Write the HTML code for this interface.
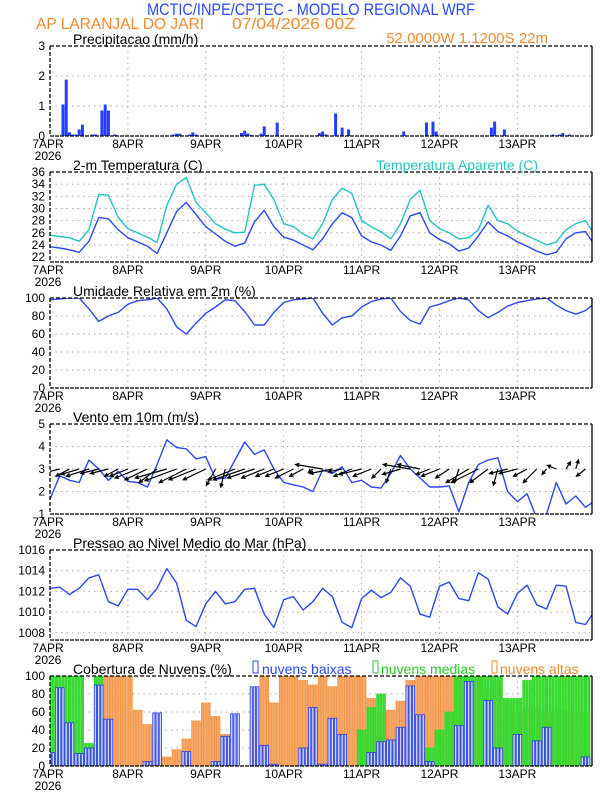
<!DOCTYPE html>
<html><head><meta charset="utf-8"><style>
body{margin:0;background:#fff}
svg{display:block;font-family:"Liberation Sans",sans-serif}
</style></head><body>
<svg id="chart" width="612" height="792" viewBox="0 0 612 792" xmlns="http://www.w3.org/2000/svg">
<text x="311" y="15" text-anchor="middle" font-size="17" fill="#2a48ff" textLength="328" lengthAdjust="spacingAndGlyphs">MCTIC/INPE/CPTEC - MODELO REGIONAL WRF</text>
<text x="36" y="29" font-size="16" fill="#f08a30" textLength="168" lengthAdjust="spacingAndGlyphs">AP LARANJAL DO JARI</text>
<text x="232" y="29" font-size="16" fill="#f08a30" textLength="123" lengthAdjust="spacingAndGlyphs">07/04/2026 00Z</text>
<text x="548" y="43" text-anchor="end" font-size="15" fill="#f08a30">52.0000W 1.1200S 22m</text>
<g id="plots"></g>
</svg>
<script>
// ---- data (3-hourly unless noted) ----
const dayLabels = ["7APR","8APR","9APR","10APR","11APR","12APR","13APR"];
const precipHours = [4,5,6,7,8,9,10,13,14,16,17,18,20,38,39,40,43,44,45,59,60,61,62,65,66,67,70,83,84,85,88,90,92,109,116,118,119,136,137,140,155,157,158,160];
const precipVals  = [1.05,1.88,0.12,0.05,0.05,0.22,0.38,0.05,0.05,0.85,1.05,0.85,0.05,0.05,0.08,0.08,0.05,0.12,0.05,0.1,0.18,0.08,0.03,0.08,0.32,0.03,0.45,0.1,0.15,0.05,0.75,0.28,0.22,0.15,0.45,0.48,0.15,0.28,0.48,0.22,0.05,0.05,0.1,0.05];
const tempApp = [25.6,25.4,25.2,24.6,26.5,32.3,32.2,28.5, 26.7,26.0,25.3,24.4,30.5,34.0,35.1,31.0, 29.3,27.5,26.6,26.0,26.1,33.8,34.0,31.5, 27.5,27.0,25.8,25.0,27.5,31.5,33.3,32.5, 28.0,27.0,26.2,25.0,27.5,31.5,33.0,28.0, 26.7,26.0,25.0,25.2,26.5,30.5,28.0,27.5, 26.3,25.5,24.8,24.0,24.5,26.5,27.5,28.0,25.5];
const temp2m = [23.7,23.5,23.2,22.8,24.6,28.5,28.3,26.5, 25.2,24.5,23.8,22.6,26.0,29.5,31.0,29.0, 27.0,25.8,24.6,23.8,24.3,27.8,29.7,27.0, 25.3,24.8,24.0,23.2,25.0,27.5,29.3,28.5, 25.5,24.5,24.0,23.1,25.5,28.8,29.3,26.0, 24.9,24.2,23.0,23.5,25.5,27.8,26.2,25.5, 24.5,23.8,23.0,22.4,22.8,25.0,26.0,26.2,23.8];
const humidity = [98,99,100,100,88,74,80,84, 93,97,98,100,88,68,60,72, 83,90,98,97,85,70,70,84, 95,98,99,100,83,70,78,80, 90,96,99,100,85,75,71,90, 93,97,100,98,86,78,84,91, 95,97,99,100,92,86,82,86,95];
const windSpeed = [1.65,2.7,2.5,2.4,3.4,3.0,2.5,2.9, 2.45,2.4,2.2,3.2,4.3,3.95,3.9,3.45, 3.55,2.55,2.6,3.4,4.2,3.65,3.85,3.0, 2.4,2.3,2.2,2.0,2.95,2.8,3.1,2.4, 2.5,2.2,2.15,2.8,3.6,3.0,2.6,2.2, 2.2,2.25,1.1,2.4,3.2,3.4,3.5,2.0, 1.55,1.9,0.8,1.0,2.4,1.45,1.8,1.3,1.6];
const windU = [-1.5,-2,-1.5,-2,-2.5,-2,-2,-1.5, -2,-2.5,-2.5,-2,-3.5,-3.5,-3,-3, -2.5,-1,-0.5,-3,-3.5,-3,-2.5,-2, -2,-2,-1.5,-0.5,-3,-2.5,-1.5,-2, -2.5,-2,-1,-0.5,-2,-3,-2.5,-1.5, -2,-1.5,-0.5,-2.5,-3,-2,-0.5,-2, -2,-1.5,-1.5,-0.5,-1,0.5,0.3,-1];
const windV = [-0.3,-0.5,-0.8,-0.6,-0.8,-0.5,-0.5,-0.8, -0.8,-1,-1.2,-1.5,-1,-1.3,-1.5,-1.2, -1.2,-1.8,-2,-1.2,-1.2,-1,-1,-0.8, -0.8,-1,-0.8,-0.4,0.5,-0.5,-0.3,-0.8, -0.6,-0.8,-1,-1.5,-0.6,0.5,0.5,-0.6, -0.8,-1,-1.5,-1.5,-1.5,-1.5,-1.8,-0.5, -0.5,-0.8,-1.5,-0.6,0.4,0.8,1.0,-0.8];
const pressure = [1012.3,1012.4,1011.7,1012.3,1013.3,1013.6,1011.0,1010.6, 1012.2,1012.2,1011.2,1012.3,1014.2,1012.8,1009.2,1008.6, 1010.8,1012.0,1010.8,1011.0,1012.2,1012.3,1009.8,1008.5, 1011.2,1011.5,1010.2,1011.0,1012.3,1011.5,1009.0,1008.5, 1011.3,1012.1,1011.4,1011.9,1013.3,1012.5,1009.8,1009.5, 1012.5,1012.9,1011.3,1011.1,1013.8,1013.2,1010.5,1009.8, 1011.8,1012.6,1010.7,1010.3,1012.6,1012.5,1009.0,1008.8,1010.2];
const cloudLow = [15,87,48,14,20,90,52,0, 0,0,5,59,0,0,16,0, 0,5,33,58,0,88,23,2, 0,0,20,65,2,53,35,0, 0,15,27,29,43,89,57,5, 0,0,45,94,0,73,20,0, 35,0,28,43,0,0,0,10];
const cloudMid = [100,100,100,100,25,100,0,0, 0,0,0,0,0,0,0,0, 0,0,0,0,0,0,0,0, 0,0,0,0,0,0,0,0, 40,65,80,22,0,0,0,20, 40,60,100,100,100,100,100,75, 75,95,100,100,100,100,100,100];
const cloudHigh = [0,0,0,0,10,90,100,100, 100,62,46,28,10,18,30,50, 70,55,35,5,0,50,100,70, 100,100,95,90,100,88,100,100, 100,75,60,62,72,95,100,100, 100,100,100,100,100,85,95,70, 60,65,65,60,62,63,60,60];
const STEP = 3;

// ---- layout ----
const NS = "http://www.w3.org/2000/svg";
const L = 50, R = 592, HOURS = 167, PH = 90;
const xs = h => L + h * (R - L) / HOURS;
const root = document.getElementById('plots');
function mk(tag, attrs, parent) {
  const e = document.createElementNS(NS, tag);
  for (const k in attrs) e.setAttribute(k, attrs[k]);
  (parent || root).appendChild(e);
  return e;
}
function panel(name, top, ymin, ymax, ticks, title, extra) {
  const g = mk('g', {});
  
  
  const ys = v => top + PH - (v - ymin) / (ymax - ymin) * PH;
  ticks.forEach(t => {
    const y = ys(t);
    if (t !== ymin && t !== ymax) mk('line', {x1: L, x2: R, y1: y, y2: y, stroke: '#aaa', 'stroke-width': 1, 'stroke-dasharray': '1.5,4'}, g);
    const lb = mk('text', {x: 45, y: y + 4, 'text-anchor': 'end', 'font-size': 12, fill: '#000'}, g);
    lb.textContent = t;
    
    
  });
  dayLabels.forEach((d, i) => {
    const x = xs(i * 24);
    if (i > 0) mk('line', {x1: x, x2: x, y1: top, y2: top + PH, stroke: '#aaa', 'stroke-width': 1, 'stroke-dasharray': '1.5,4'}, g);
    const lb = mk('text', {x: i === 0 ? 48 : x, y: top + PH + 12, 'text-anchor': 'middle', 'font-size': 12, fill: '#000'}, g);
    lb.textContent = d;
    
    
  });
  const yr = mk('text', {x: 48, y: top + PH + 24, 'text-anchor': 'middle', 'font-size': 12, fill: '#000'}, g);
  yr.textContent = '2026';
  
  
  if (title) {
    const tt = mk('text', {x: 73, y: top - 2, 'font-size': 14, fill: '#000'}, g);
    tt.textContent = title;
    
    
  }
  const clipId = 'clip-' + name;
  const cp = mk('clipPath', {id: clipId}, g);
  mk('rect', {x: L, y: top, width: R - L, height: PH}, cp);
  const body = mk('g', {'clip-path': 'url(#' + clipId + ')'}, g);
  extra(body, ys);
  mk('line', {x1: L, x2: R, y1: top, y2: top, stroke: '#000', 'stroke-width': 1.3, 'stroke-dasharray': '4,2'}, g);
  mk('line', {x1: L, x2: L, y1: top, y2: top + PH, stroke: '#000', 'stroke-width': 1.3, 'stroke-dasharray': '4,2'}, g);
  mk('line', {x1: L, x2: R, y1: top + PH, y2: top + PH, stroke: '#000', 'stroke-width': 1.3, 'stroke-dasharray': '4,1'}, g);
  mk('line', {x1: R, x2: R, y1: top, y2: top + PH, stroke: '#000', 'stroke-width': 1.3}, g);
  return g;
}
function line(parent, arr, ys, color, name) {
  const d = arr.map((v, i) => (i ? 'L' : 'M') + xs(i * STEP).toFixed(1) + ',' + ys(v).toFixed(1)).join('');
  const p = mk('path', {d: d, fill: 'none', stroke: color, 'stroke-width': 1.4, 'stroke-linejoin': 'round'}, parent);
  
  
}

panel('precip', 46, 0, 3, [0,1,2,3], 'Precipitacao (mm/h)', (g, ys) => {
  precipHours.forEach((h, i) => {
    const r = mk('rect', {x: xs(h) - 1.5, y: ys(precipVals[i]), width: 3, height: ys(0) - ys(precipVals[i]), fill: '#2040ff'}, g);
    
    
  });
});
panel('temp', 172, 21.2, 36, [22,24,26,28,30,32,34,36], '2-m Temperatura (C)', (g, ys) => {
  line(g, tempApp, ys, '#22c4c0', 'apparent-temperature-line');
  line(g, temp2m, ys, '#2a48f0', 'temperature-line');
});
const at = mk('text', {x: 538, y: 170, 'text-anchor': 'end', 'font-size': 14, fill: '#22c4c0'});
at.textContent = 'Temperatura Aparente (C)';


panel('humidity', 298, 0, 100, [0,20,40,60,80,100], 'Umidade Relativa em 2m (%)', (g, ys) => {
  line(g, humidity, ys, '#2a48f0', 'humidity-line');
});
panel('wind', 424, 1, 5, [1,2,3,4,5], 'Vento em 10m (m/s)', (g, ys) => {
  line(g, windSpeed, ys, '#2a48f0', 'wind-speed-line');
  const y0 = ys(3);
  windU.forEach((u, i) => {
    const x0 = xs(i * STEP), x1 = x0 + u * 9, y1 = y0 - windV[i] * 9;
    const a = Math.atan2(y1 - y0, x1 - x0);
    const hx1 = x1 - 4 * Math.cos(a - 0.45), hy1 = y1 - 4 * Math.sin(a - 0.45);
    const hx2 = x1 - 4 * Math.cos(a + 0.45), hy2 = y1 - 4 * Math.sin(a + 0.45);
    const p = mk('path', {d: `M${x0},${y0}L${x1},${y1}M${hx1},${hy1}L${x1},${y1}L${hx2},${hy2}`, stroke: '#000', 'stroke-width': 1.2, fill: 'none'}, g);
    
    
  });
});
panel('pressure', 550, 1007.3, 1016, [1008,1010,1012,1014,1016], 'Pressao ao Nivel Medio do Mar (hPa)', (g, ys) => {
  line(g, pressure, ys, '#2a48f0', 'pressure-line');
});
panel('cloud', 676, 0, 100, [0,20,40,60,80,100], '', (g, ys) => {
  const bw = xs(1) - xs(0);
  function bars(arr, fill, stroke, sw, name) {
    arr.forEach((v, i) => {
      if (v <= 0) return;
      for (let k = -1; k <= 1; k++) {
        const r = mk('rect', {x: xs(i * STEP + k) - bw / 2 + 0.5, y: ys(v), width: bw - 1, height: ys(0) - ys(v), fill: fill, stroke: stroke, 'stroke-width': sw}, g);
        
        
      }
    });
  }
  bars(cloudHigh, '#f8a868', '#f09040', 0.8, 'high-cloud-bar');
  bars(cloudMid, '#50d040', '#20e020', 0.8, 'mid-cloud-bar');
  bars(cloudLow, '#d0d8ff', '#2238e0', 0.8, 'low-cloud-bar');
});
const legItems = [['Cobertura de Nuvens (%)', '#000', 73, null], ['nuvens baixas', '#2a48ff', 262, 253], ['nuvens medias', '#22cc22', 381, 373], ['nuvens altas', '#f08a30', 500, 492]];
legItems.forEach(([t, c, x, bx]) => {
  if (bx !== null) {
    const b = mk('rect', {x: bx, y: 661, width: 5, height: 12, fill: 'none', stroke: c, 'stroke-width': 1});
    
    
  }
  const s = mk('text', {x: x, y: 674, 'font-size': 14, fill: c});
  s.textContent = t;
  
  
});
</script>
</body></html>
